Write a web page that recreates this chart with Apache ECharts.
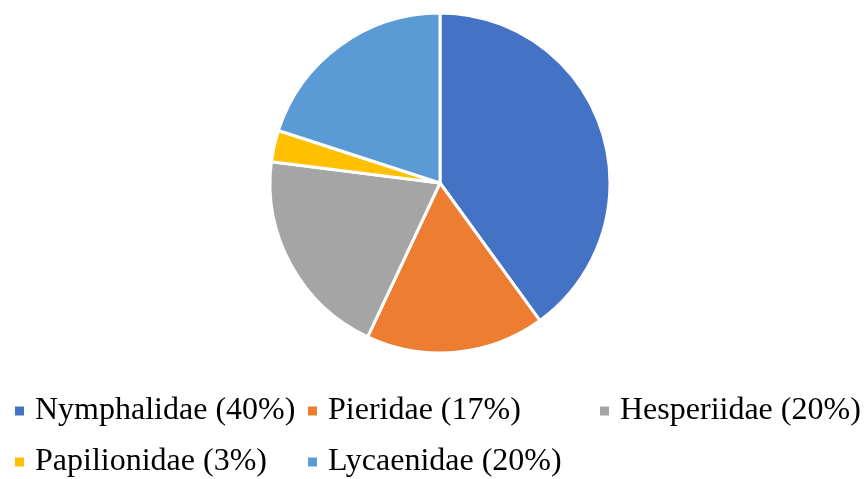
<!DOCTYPE html>
<html><head><meta charset="utf-8">
<script src="https://cdn.jsdelivr.net/npm/echarts@6/dist/echarts.min.js"></script>
<style>html,body{margin:0;padding:0;background:#fff}#c{width:864px;height:479px}</style>
</head><body><div id="c"></div>
<script>
const categories = ['Nymphalidae (40%)', 'Pieridae (17%)', 'Hesperiidae (20%)', 'Papilionidae (3%)', 'Lycaenidae (20%)'];
const values = [40, 17, 20, 3, 20];
const colors = ['#4472C4', '#ED7D31', '#A5A5A5', '#FFC000', '#5B9BD5'];
const legendPos = [[13, 395], [306, 395], [598, 395], [13, 446], [306, 446]];

const chart = echarts.init(document.getElementById('c'), null, {renderer: 'canvas'});
const legends = categories.map((name, i) => ({
  data: [name],
  left: legendPos[i][0],
  top: legendPos[i][1],
  orient: 'horizontal',
  itemWidth: 11,
  itemHeight: 11,
  icon: 'rect',
  selectedMode: false,
  padding: 0,
  textStyle: {fontFamily: 'Liberation Serif', fontSize: 32, color: '#000', padding: [0, 0, 0, 5]}
}));
chart.setOption({
  animation: false,
  color: colors,
  legend: legends,
  series: [{
    type: 'pie',
    center: [440, 183],
    radius: 170,
    startAngle: 90,
    clockwise: true,
    label: {show: false},
    labelLine: {show: false},
    itemStyle: {borderColor: '#fff', borderWidth: 3},
    emphasis: {disabled: true},
    data: categories.map((n, i) => ({name: n, value: values[i]}))
  }]
});
</script></body></html>
